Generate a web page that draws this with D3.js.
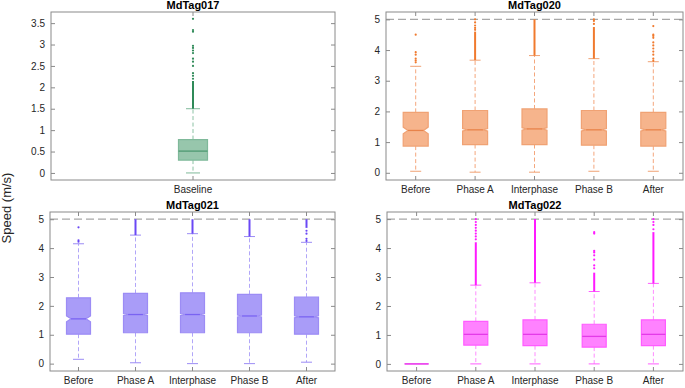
<!DOCTYPE html>
<html>
<head>
<meta charset="utf-8">
<script src="https://cdn.jsdelivr.net/npm/d3@7"></script>
<style>
  body { margin: 0; background: #fff; }
  svg { display: block; font-family: "Liberation Sans", Arial, Helvetica, sans-serif; }
</style>
</head>
<body>
<svg id="chart" width="685" height="388"></svg>
<script>
(function () {

    // ---- data ----
    const phases = ["Before", "Phase A", "Interphase", "Phase B", "After"];

    // MdTag017
    const cats017 = ["Baseline"];
    const lo017 = [0.0];
    const q1_017 = [0.3];
    const med017 = [0.51];
    const q3_017 = [0.78];
    const hi017 = [1.5];
    const notch017 = [0];
    const runs017 = [[[1.5, 2.15]]];
    const dots017 = [[2.2, 2.27, 2.33, 2.5, 2.6, 2.67, 2.8, 2.86, 2.92, 2.97, 3.3, 3.34, 3.6]];
    const ticks017 = [0, 0.5, 1, 1.5, 2, 2.5, 3, 3.5];

    // MdTag020
    const lo020 = [0.05, 0.02, 0.02, 0.05, 0.05];
    const q1_020 = [0.87, 0.92, 0.92, 0.9, 0.87];
    const med020 = [1.38, 1.4, 1.43, 1.4, 1.4];
    const q3_020 = [1.97, 2.03, 2.08, 2.03, 1.97];
    const hi020 = [3.47, 3.67, 3.82, 3.72, 3.62];
    const notch020 = [0.11, 0.04, 0.04, 0.04, 0.04];
    const runs020 = [[], [[3.67, 4.6]], [[3.82, 5.0]], [[3.72, 4.75]], []];
    const dots020 = [
        [3.6, 3.66, 3.72, 3.85, 3.93, 4.5],
        [4.66, 4.72, 4.8, 4.9, 5.0],
        [],
        [4.85, 4.95, 5.0],
        [3.65, 3.72, 3.85, 3.95, 4.05, 4.15, 4.25, 4.4, 4.46, 4.5, 4.78]
    ];

    // MdTag021
    const lo021 = [0.15, 0.03, 0.0, 0.0, 0.05];
    const q1_021 = [1.02, 1.07, 1.07, 1.07, 1.02];
    const med021 = [1.55, 1.7, 1.7, 1.65, 1.62];
    const q3_021 = [2.28, 2.43, 2.45, 2.4, 2.3];
    const hi021 = [4.15, 4.45, 4.5, 4.4, 4.2];
    const notch021 = [0.1, 0.035, 0.035, 0.035, 0.035];
    const runs021 = [[], [[4.45, 5.0]], [[4.5, 5.0]], [[4.4, 5.0]], [[4.7, 5.0]]];
    const dots021 = [
        [4.22, 4.27, 4.72],
        [],
        [],
        [],
        [4.25, 4.32, 4.5, 4.6]
    ];

    // MdTag022
    const lo022 = [0, 0, 0, 0, 0];
    const q1_022 = [0, 0.65, 0.63, 0.58, 0.63];
    const med022 = [0, 1.02, 1.02, 0.95, 1.02];
    const q3_022 = [0, 1.47, 1.52, 1.37, 1.52];
    const hi022 = [0, 2.72, 2.8, 2.5, 2.78];
    const notch022 = [0, 0, 0, 0, 0];
    const runs022 = [[], [[2.72, 4.2]], [[2.8, 5.0]], [[2.5, 3.15]], [[2.78, 4.55]]];
    const dots022 = [
        [],
        [4.3, 4.4, 4.5, 4.6, 4.7, 4.8, 4.9, 5.0],
        [],
        [3.3, 3.4, 3.6, 3.75, 3.85, 3.9, 4.5, 4.55],
        [4.65, 4.8, 4.9, 5.0]
    ];

    const ticks5 = [0, 1, 2, 3, 4, 5];
    const speedCap = 5;

    // ---- panels ----
    function stats(cats, lo, q1, med, q3, hi, notch, runs, dots) {
        return cats.map((c, i) => ({
            cat: c, lo: lo[i], q1: q1[i], med: med[i], q3: q3[i], hi: hi[i],
            notch: notch[i], runs: runs[i], dots: dots[i]
        }));
    }

    let panels = [
        {
            title: "MdTag017", cats: cats017, ticks: ticks017, domain: [-0.165, 3.76], cap: false,
            box: { left: 51, right: 335, top: 12, bottom: 180 }, boxW: 29, capW: 14,
            color: { fill: "#97c6ac", edge: "#7fb99a", med: "#4f9a72", whisk: "#8cc2a4", dot: "#2f8a58" },
            data: stats(cats017, lo017, q1_017, med017, q3_017, hi017, notch017, runs017, dots017)
        },
        {
            title: "MdTag020", cats: phases, ticks: ticks5, domain: [-0.235, 5.24], cap: true,
            box: { left: 386, right: 683, top: 12, bottom: 180 }, boxW: 25, capW: 11,
            color: { fill: "#f6b48c", edge: "#f0a274", med: "#e8834a", whisk: "#f4a77d", dot: "#f07a2e" },
            data: stats(phases, lo020, q1_020, med020, q3_020, hi020, notch020, runs020, dots020)
        },
        {
            title: "MdTag021", cats: phases, ticks: ticks5, domain: [-0.255, 5.25], cap: true,
            box: { left: 50, right: 335, top: 212, bottom: 371 }, boxW: 24, capW: 11,
            color: { fill: "#a99cf8", edge: "#9c8cf5", med: "#7a63f2", whisk: "#b1a6f8", dot: "#6a48f5" },
            data: stats(phases, lo021, q1_021, med021, q3_021, hi021, notch021, runs021, dots021)
        },
        {
            title: "MdTag022", cats: phases, ticks: ticks5, domain: [-0.245, 5.245], cap: true,
            box: { left: 387, right: 683, top: 212, bottom: 371 }, boxW: 24, capW: 11,
            color: { fill: "#ff82ff", edge: "#ff5cff", med: "#e43ae8", whisk: "#ff8cff", dot: "#ff1aff" },
            data: stats(phases, lo022, q1_022, med022, q3_022, hi022, notch022, runs022, dots022)
        }
    ];

    let svg = d3.select("#chart");
    const frameColor = "#8a8a8a";
    const textColor = "#262626";

    function drawPanel(p) {
        let b = p.box;
        let g = svg.append("g");

        let xScale = d3.scaleBand().domain(p.cats).range([b.left, b.right]).padding(0);
        let cx = c => xScale(c) + xScale.bandwidth() / 2;
        let yScale = d3.scaleLinear().domain(p.domain).range([b.bottom, b.top]);

        // dashed line at the speed cap
        if (p.cap) {
            g.append("line")
                .attr("x1", b.left).attr("x2", b.right)
                .attr("y1", yScale(speedCap)).attr("y2", yScale(speedCap))
                .attr("stroke", "#a8a8a8").attr("stroke-width", 1.2)
                .attr("stroke-dasharray", "8,4");
        }

        let items = g.selectAll("g.item").data(p.data).enter().append("g").attr("class", "item");

        // whiskers
        items.filter(d => d.hi > d.q3).append("line")
            .attr("x1", d => cx(d.cat)).attr("x2", d => cx(d.cat))
            .attr("y1", d => yScale(d.q3)).attr("y2", d => yScale(d.hi))
            .attr("stroke", p.color.whisk).attr("stroke-dasharray", "4,2.5");
        items.filter(d => d.q1 > d.lo).append("line")
            .attr("x1", d => cx(d.cat)).attr("x2", d => cx(d.cat))
            .attr("y1", d => yScale(d.q1)).attr("y2", d => yScale(d.lo))
            .attr("stroke", p.color.whisk).attr("stroke-dasharray", "4,2.5");
        // caps
        items.filter(d => d.hi > d.q3).append("line")
            .attr("x1", d => cx(d.cat) - p.capW / 2).attr("x2", d => cx(d.cat) + p.capW / 2)
            .attr("y1", d => yScale(d.hi)).attr("y2", d => yScale(d.hi))
            .attr("stroke", p.color.edge);
        items.filter(d => d.q1 > d.lo).append("line")
            .attr("x1", d => cx(d.cat) - p.capW / 2).attr("x2", d => cx(d.cat) + p.capW / 2)
            .attr("y1", d => yScale(d.lo)).attr("y2", d => yScale(d.lo))
            .attr("stroke", p.color.edge);

        // boxes (with notch where one is given)
        let half = p.boxW / 2;
        let indent = half * 0.38;
        items.append("path")
            .attr("d", d => {
                let xl = cx(d.cat) - half, xr = cx(d.cat) + half;
                let path = d3.path();
                if (d.notch > 0) {
                    path.moveTo(xl, yScale(d.q1));
                    path.lineTo(xr, yScale(d.q1));
                    path.lineTo(xr, yScale(d.med - d.notch));
                    path.lineTo(xr - indent, yScale(d.med));
                    path.lineTo(xr, yScale(d.med + d.notch));
                    path.lineTo(xr, yScale(d.q3));
                    path.lineTo(xl, yScale(d.q3));
                    path.lineTo(xl, yScale(d.med + d.notch));
                    path.lineTo(xl + indent, yScale(d.med));
                    path.lineTo(xl, yScale(d.med - d.notch));
                } else {
                    path.rect(xl, yScale(d.q3), p.boxW, Math.max(0, yScale(d.q1) - yScale(d.q3)));
                }
                path.closePath();
                return path.toString();
            })
            .attr("fill", p.color.fill)
            .attr("stroke", p.color.edge)
            .attr("stroke-width", 1.2);

        // median
        items.append("line")
            .attr("x1", d => cx(d.cat) - half + (d.notch > 0 ? indent : 0))
            .attr("x2", d => cx(d.cat) + half - (d.notch > 0 ? indent : 0))
            .attr("y1", d => yScale(d.med)).attr("y2", d => yScale(d.med))
            .attr("stroke", p.color.med).attr("stroke-width", 1.3);

        // outliers: dense runs and single points
        items.each(function (d) {
            let el = d3.select(this);
            el.selectAll("line.run").data(d.runs).enter().append("line")
                .attr("class", "run")
                .attr("x1", cx(d.cat)).attr("x2", cx(d.cat))
                .attr("y1", r => yScale(r[0])).attr("y2", r => yScale(r[1]))
                .attr("stroke", p.color.dot).attr("stroke-width", 2);
            el.selectAll("circle").data(d.dots).enter().append("circle")
                .attr("cx", cx(d.cat)).attr("cy", v => yScale(v))
                .attr("r", 1.1).attr("fill", p.color.dot);
        });

        // axes
        let fmt = v => d3.format("~g")(v);
        let yAxis = d3.axisLeft(yScale).tickValues(p.ticks).tickSize(-4).tickPadding(6).tickFormat(fmt);
        let yAxisR = d3.axisRight(yScale).tickValues(p.ticks).tickSize(-4).tickFormat("");
        let xAxis = d3.axisBottom(xScale).tickSize(-4).tickPadding(6);
        let xAxisT = d3.axisTop(xScale).tickSize(-4).tickFormat("");

        g.append("g").attr("transform", `translate(${b.left},0)`).call(yAxis);
        g.append("g").attr("transform", `translate(${b.right},0)`).call(yAxisR);
        g.append("g").attr("transform", `translate(0,${b.bottom})`).call(xAxis);
        g.append("g").attr("transform", `translate(0,${b.top})`).call(xAxisT);

        g.selectAll(".domain").remove();
        g.selectAll(".tick line").attr("stroke", frameColor);
        g.selectAll(".tick text").attr("fill", textColor).attr("font-size", 10)
            .attr("font-family", "Liberation Sans, Arial, sans-serif");

        g.append("rect")
            .attr("x", b.left).attr("y", b.top)
            .attr("width", b.right - b.left).attr("height", b.bottom - b.top)
            .attr("fill", "none").attr("stroke", frameColor);

        g.append("text")
            .attr("x", (b.left + b.right) / 2)
            .attr("y", b.top - 3)
            .attr("text-anchor", "middle")
            .attr("font-size", 11)
            .attr("font-weight", "bold")
            .attr("fill", "#000")
            .text(p.title);
    }

    panels.forEach(drawPanel);

    svg.append("text")
        .attr("transform", "translate(11,208) rotate(-90)")
        .attr("text-anchor", "middle")
        .attr("font-size", 13)
        .attr("fill", textColor)
        .text("Speed (m/s)");

})();
</script>
</body>
</html>
